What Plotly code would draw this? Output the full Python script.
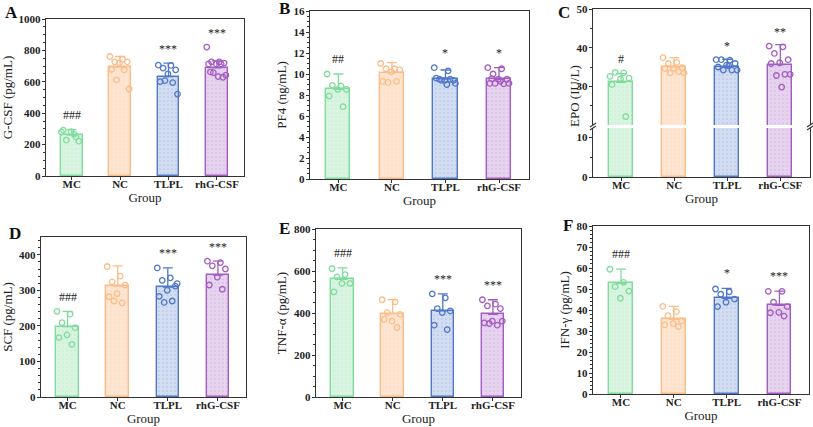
import plotly.graph_objects as go

groups = ["MC", "NC", "TLPL", "rhG-CSF"]

# ---- data ----
gcsf_mean = [260, 693, 633, 689]
gcsf_err = [36, 68, 86, 44]
gcsf_pts = [
    [279, 267, 228, 222, 282, 292, 249],
    [761, 744, 727, 727, 721, 680, 676, 612, 554],
    [706, 704, 687, 676, 650, 601, 595, 608, 522],
    [821, 727, 727, 719, 714, 714, 714, 659, 642, 633, 663, 629],
]
gcsf_sig = ["###", "", "***", "***"]

pf4_mean = [8.54, 10.13, 9.52, 9.49]
pf4_err = [1.46, 0.95, 0.86, 1.11]
pf4_pts = [
    [10.0, 8.86, 8.92, 8.54, 8.54, 7.9, 6.89],
    [11.0, 10.5, 10.5, 10.4, 10.2, 9.3, 9.3, 9.2],
    [10.6, 10.3, 9.5, 9.4, 9.4, 9.6, 9.5, 9.4, 9.1, 9.0],
    [10.6, 10.5, 10.0, 9.5, 9.5, 9.1, 9.05, 9.1, 9.1, 9.3, 9.55],
]
pf4_sig = ["##", "", "*", "*"]

epo_mean = [31.0, 35.0, 35.0, 35.6]
epo_err = [2.3, 2.4, 2.0, 5.2]
epo_pts = [
    [32.6, 33.5, 33.6, 32.1, 31.9, 30.5, 22.2],
    [37.4, 36.2, 35.9, 34.8, 34.6, 34.6, 33.8, 33.5, 33.5],
    [36.9, 36.8, 36.9, 35.9, 35.5, 35.0, 34.2, 34.2, 34.2, 35.3],
    [40.4, 40.2, 38.5, 36.9, 36.1, 35.9, 33.1, 32.8, 33.1, 29.8],
]
epo_sig = ["#", "", "*", "**"]

scf_mean = [198, 312, 309, 343]
scf_err = [43, 57, 54, 39]
scf_pts = [
    [241, 233, 209, 195, 175, 167, 148],
    [367, 340, 324, 315, 291, 282, 265, 270],
    [363, 335, 328, 312, 300, 283, 270, 266, 319],
    [382, 378, 369, 360, 337, 315, 303],
]
scf_sig = ["###", "", "***", "***"]

tnf_mean = [560, 397, 410, 393]
tnf_err = [55, 67, 81, 70]
tnf_pts = [
    [612, 583, 572, 541, 541, 501],
    [463, 453, 402, 393, 361, 370, 331],
    [491, 472, 421, 410, 402, 342, 321],
    [463, 442, 434, 421, 361, 353, 342, 350, 361],
]
tnf_sig = ["###", "", "***", "***"]

ifn_mean = [52.7, 35.6, 45.6, 42.2]
ifn_err = [6.8, 6.1, 4.7, 6.8]
ifn_pts = [
    [59.4, 53.2, 51.1, 49.0, 45.6],
    [41.7, 39.2, 37.3, 34.8, 33.5, 32.9, 32.1],
    [50.0, 48.7, 47.5, 45.2, 43.7, 41.6],
    [48.9, 48.9, 43.7, 41.6, 38.9, 38.7, 37.1],
]
ifn_sig = ["###", "", "*", "***"]

# ---- styles ----
edge = ["#7fdc9c", "#fbbd88", "#4f78c8", "#a45cc0"]
fill = ["#daf4e2", "#fde5d2", "#d2ddf1", "#e6d4ef"]
FONT = "Liberation Serif"
AX = "#333333"
XR = [-0.53, 3.56]

fig = go.Figure()
W, H = 813, 427


def px_x(a, b):
    return [a / W, b / W]


def px_y(top, bottom):
    return [1 - bottom / H, 1 - top / H]


def jitter(n):
    return [(((i * 0.618034) % 1.0) - 0.5) * 0.42 for i in range(n)]


def add_marks(xa, ya, means, errs, pts, with_err=True, with_pts=True):
    for i, g in enumerate(groups):
        fig.add_trace(go.Bar(
            x=[i], y=[means[i]], width=0.45, xaxis=xa, yaxis=ya, showlegend=False,
            hoverinfo="skip",
            marker=dict(color=fill[i], line=dict(color=edge[i], width=1.4),
                        pattern=dict(shape=".", fillmode="replace", bgcolor=fill[i],
                                     fgcolor=edge[i], fgopacity=0.22, size=4, solidity=0.15)),
            error_y=dict(type="data", symmetric=False, array=[errs[i]], arrayminus=[0],
                         color=edge[i], thickness=1.3, width=5, visible=with_err),
        ))
        if with_pts:
            offs = jitter(len(pts[i]))
            fig.add_trace(go.Scatter(
                x=[i + o for o in offs], y=pts[i], mode="markers", xaxis=xa, yaxis=ya,
                showlegend=False, cliponaxis=True, hoverinfo="skip",
                marker=dict(symbol="circle-open", size=5.5, color=edge[i], line=dict(width=1.3)),
            ))


def sig_annots(xref, yref, means, errs, pts, sig, rng):
    out = []
    for i, s in enumerate(sig):
        if not s:
            continue
        top = max(means[i] + errs[i], max(pts[i]))
        out.append(dict(x=i, y=top + 0.035 * rng, xref=xref, yref=yref, text=s,
                        showarrow=False, yanchor="bottom",
                        font=dict(family=FONT, size=12, color="#222")))
    return out


def yax(domain, rng, dtick, title, xname, tickvals=None, standoff=4):
    d = dict(domain=domain, range=rng, anchor=xname, showline=True, mirror=True,
             linecolor=AX, linewidth=1.4, ticks="outside", ticklen=3, tickwidth=1.2,
             tickcolor=AX, showgrid=False, zeroline=False, ticklabelstandoff=-1,
             tickfont=dict(family=FONT, size=11, color="#222", weight="bold"),
             minor=dict(ticks="outside", ticklen=2, tickcolor=AX),
             automargin=False)
    if tickvals is not None:
        d["tickvals"] = tickvals
    else:
        d["dtick"] = dtick
        d["tick0"] = 0
    if title:
        d["title"] = dict(text=title, font=dict(family=FONT, size=13, color="#222"), standoff=standoff)
    return d


def xax(domain, yname, title="Group", showline=True):
    return dict(domain=domain, range=XR, anchor=yname, showline=showline, mirror=True,
                linecolor=AX, linewidth=1.4, ticks="outside", ticklen=3, tickwidth=1.2,
                tickcolor=AX, showgrid=False, zeroline=False,
                tickvals=[0, 1, 2, 3], ticktext=groups, ticklabelstandoff=-5,
                tickfont=dict(family=FONT, size=11, color="#222", weight="bold"),
                title=dict(text=title, font=dict(family=FONT, size=13, color="#222"), standoff=0),
                automargin=False)


layout = dict(width=W, height=H, margin=dict(l=0, r=0, t=0, b=0),
              plot_bgcolor="white", paper_bgcolor="white", barmode="overlay",
              bargap=0)
annots = []

panels = [
    ("1", (46, 244), (19, 176), [0, 1000], 200, "G-CSF (pg/mL)",
     (gcsf_mean, gcsf_err, gcsf_pts, gcsf_sig), "A", (3, 12)),
    ("2", (310, 529), (11, 179), [0, 16], 2, "PF4 (ng/mL)",
     (pf4_mean, pf4_err, pf4_pts, pf4_sig), "B", (277, 8)),
    ("4", (41, 246), (237, 397), [0, 450], 100, "SCF (pg/mL)",
     (scf_mean, scf_err, scf_pts, scf_sig), "D", (7, 233)),
    ("5", (316, 521), (229, 397), [0, 800], 200, "TNF-α (pg/mL)",
     (tnf_mean, tnf_err, tnf_pts, tnf_sig), "E", (277, 228)),
    ("6", (593, 809), (226, 394), [0, 80], 10, "IFN-γ (pg/mL)",
     (ifn_mean, ifn_err, ifn_pts, ifn_sig), "F", (561, 225)),
]

for n, xp, yp, rng, dt, title, (m, e, p, s), letter, lp in panels:
    xn, yn = "x" + n, "y" + n
    add_marks(xn, yn, m, e, p)
    layout["xaxis" + n] = xax(px_x(*xp), yn)
    layout["yaxis" + n] = yax(px_y(*yp), rng, dt, title, xn)
    annots += sig_annots(xn, yn, m, e, p, s, rng[1] - rng[0])
    annots.append(dict(x=lp[0] / W, y=1 - lp[1] / H, xref="paper", yref="paper", text="<b>" + letter + "</b>",
                       showarrow=False, xanchor="left", yanchor="middle",
                       font=dict(family=FONT, size=17, color="#111")))

# ---- panel C with a broken y axis ----
cx = px_x(593, 810)
add_marks("x3", "y3", epo_mean, epo_err, epo_pts, with_err=False, with_pts=False)
add_marks("x7", "y7", epo_mean, epo_err, epo_pts)
layout["xaxis3"] = xax(cx, "y3")
layout["xaxis3"]["mirror"] = False
layout["yaxis3"] = yax(px_y(128, 177), [0, 12.3], None, None, "x3", tickvals=[0, 10])
layout["yaxis3"]["minor"] = dict(ticks="outside", ticklen=2, tickcolor=AX, tickvals=[5])
layout["xaxis7"] = dict(domain=cx, range=XR, anchor="y7", side="top", showline=True,
                        linecolor=AX, linewidth=1.4, showticklabels=False, ticks="",
                        showgrid=False, zeroline=False, automargin=False)
layout["yaxis7"] = yax(px_y(9, 125), [20, 50], None, None, "x7", tickvals=[30, 40, 50])
layout["yaxis7"]["minor"] = dict(ticks="outside", ticklen=2, tickcolor=AX, tickvals=[25, 35, 45])
annots += sig_annots("x7", "y7", epo_mean, epo_err, epo_pts, epo_sig, 30)
# y title for the whole broken axis
annots.append(dict(x=574 / W, y=1 - 96 / H, xref="paper", yref="paper", text="EPO (IU/L)",
                   textangle=-90, showarrow=False, xanchor="center", yanchor="middle",
                   font=dict(family=FONT, size=13, color="#222")))
annots.append(dict(x=556 / W, y=1 - 12 / H, xref="paper", yref="paper", text="<b>C</b>",
                   showarrow=False, xanchor="left", yanchor="middle",
                   font=dict(family=FONT, size=17, color="#111")))

# break marks on the broken axis
shapes = []
for xpx in (593, 810):
    for dy in (-1.5, 1.5):
        shapes.append(dict(type="line", xref="paper", yref="paper",
                           x0=(xpx - 3) / W, x1=(xpx + 3) / W,
                           y0=1 - (126.5 + dy + 2) / H, y1=1 - (126.5 + dy - 2) / H,
                           line=dict(color=AX, width=1.1)))

layout["annotations"] = annots
layout["shapes"] = shapes
layout["hovermode"] = False
fig.update_layout(**layout)
fig.write_html("out.html", config={"displayModeBar": False},
               post_script="document.body.style.margin='0';document.body.style.padding='0';")
